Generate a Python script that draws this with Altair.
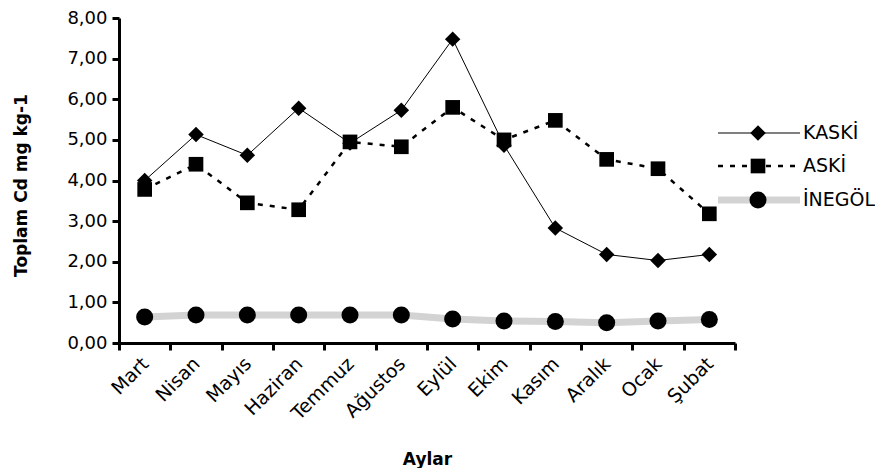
import altair as alt
import pandas as pd

months = ["Mart", "Nisan", "Mayıs", "Haziran", "Temmuz", "Ağustos",
          "Eylül", "Ekim", "Kasım", "Aralık", "Ocak", "Şubat"]
kaski = [4.00, 5.13, 4.62, 5.78, 4.92, 5.73, 7.48, 4.87, 2.83, 2.18, 2.03, 2.18]
aski = [3.78, 4.40, 3.45, 3.28, 4.95, 4.83, 5.80, 5.00, 5.48, 4.52, 4.29, 3.18]
inegol = [0.64, 0.69, 0.69, 0.69, 0.69, 0.69, 0.59, 0.54, 0.53, 0.50, 0.54, 0.58]

series_names = ["KASKİ", "ASKİ", "İNEGÖL"]

def frame(vals):
    return pd.DataFrame({"Ay": months, "v": vals})

FONT = "DejaVu Sans"

x_enc = alt.X(
    "Ay:O", sort=months, bandPosition=0.5,
    scale=alt.Scale(type="band", paddingInner=0, paddingOuter=0),
    axis=alt.Axis(title="Aylar", labelAngle=-45, tickBand="extent",
                  titleY=121, titleBaseline="alphabetic", labelPadding=4,
                  labelOffset=-6, labelFontSize=19),
)
y_enc = alt.Y(
    "v:Q", scale=alt.Scale(domain=[0, 8], nice=False),
    axis=alt.Axis(title="Toplam Cd mg kg-1", values=[0, 1, 2, 3, 4, 5, 6, 7, 8],
                  labelExpr="replace(format(datum.value, '.2f'), '.', ',')",
                  grid=False, labelPadding=5, titleX=-89, titleY=167,
                  labelFontSize=18),
)

def series(vals, line_props, shape, size):
    d = frame(vals)
    base = alt.Chart(d).encode(x=x_enc, y=y_enc)
    ln = base.mark_line(**line_props)
    pt = base.mark_point(shape=shape, size=size, filled=True, color="black", opacity=1)
    return ln, pt

GRAY = "#d3d3d3"
l3, p3 = series(inegol, dict(color=GRAY, strokeWidth=7), "circle", 290)
l2, p2 = series(aski, dict(color="black", strokeWidth=2.5, strokeDash=[5, 7]), "square", 215)
l1, p1 = series(kaski, dict(color="black", strokeWidth=1), "diamond", 240)

# manual legend
leg_y = [115, 148, 182]
leg_df = pd.DataFrame({"name": series_names})

def leg_rule(i, props):
    return alt.Chart(leg_df.iloc[[i]]).mark_rule(**props).encode(
        x=alt.value(599), x2=alt.value(681), y=alt.value(leg_y[i]))

def leg_pt(i, shape, size):
    return alt.Chart(leg_df.iloc[[i]]).mark_point(
        shape=shape, size=size, filled=True, color="black", opacity=1).encode(
        x=alt.value(639), y=alt.value(leg_y[i]))

def leg_txt(i):
    return alt.Chart(leg_df.iloc[[i]]).mark_text(
        align="left", baseline="middle", fontSize=19, font=FONT, color="black").encode(
        x=alt.value(684), y=alt.value(leg_y[i]), text="name:N")

legend = [
    leg_rule(0, dict(color="black", strokeWidth=1)), leg_pt(0, "diamond", 240), leg_txt(0),
    leg_rule(1, dict(color="black", strokeWidth=2.5, strokeDash=[5, 7])), leg_pt(1, "square", 215), leg_txt(1),
    leg_rule(2, dict(color=GRAY, strokeWidth=7)), leg_pt(2, "circle", 290), leg_txt(2),
]

chart = alt.layer(l3, l2, l1, p3, p2, p1, *legend).properties(
    width=616, height=325,
    autosize=alt.AutoSizeParams(type="none"),
    padding={"left": 111, "top": 10, "right": 140, "bottom": 125},
).configure_view(stroke=None).configure_axis(
    labelFont=FONT, labelFontSize=18, labelColor="black",
    titleFont=FONT, titleFontSize=17, titleFontWeight="bold", titleColor="black",
    tickSize=7, tickWidth=3, tickColor="black",
    domainWidth=3, domainColor="black",
)

chart.save("out.html", embed_options={"renderer": "svg", "actions": False})
